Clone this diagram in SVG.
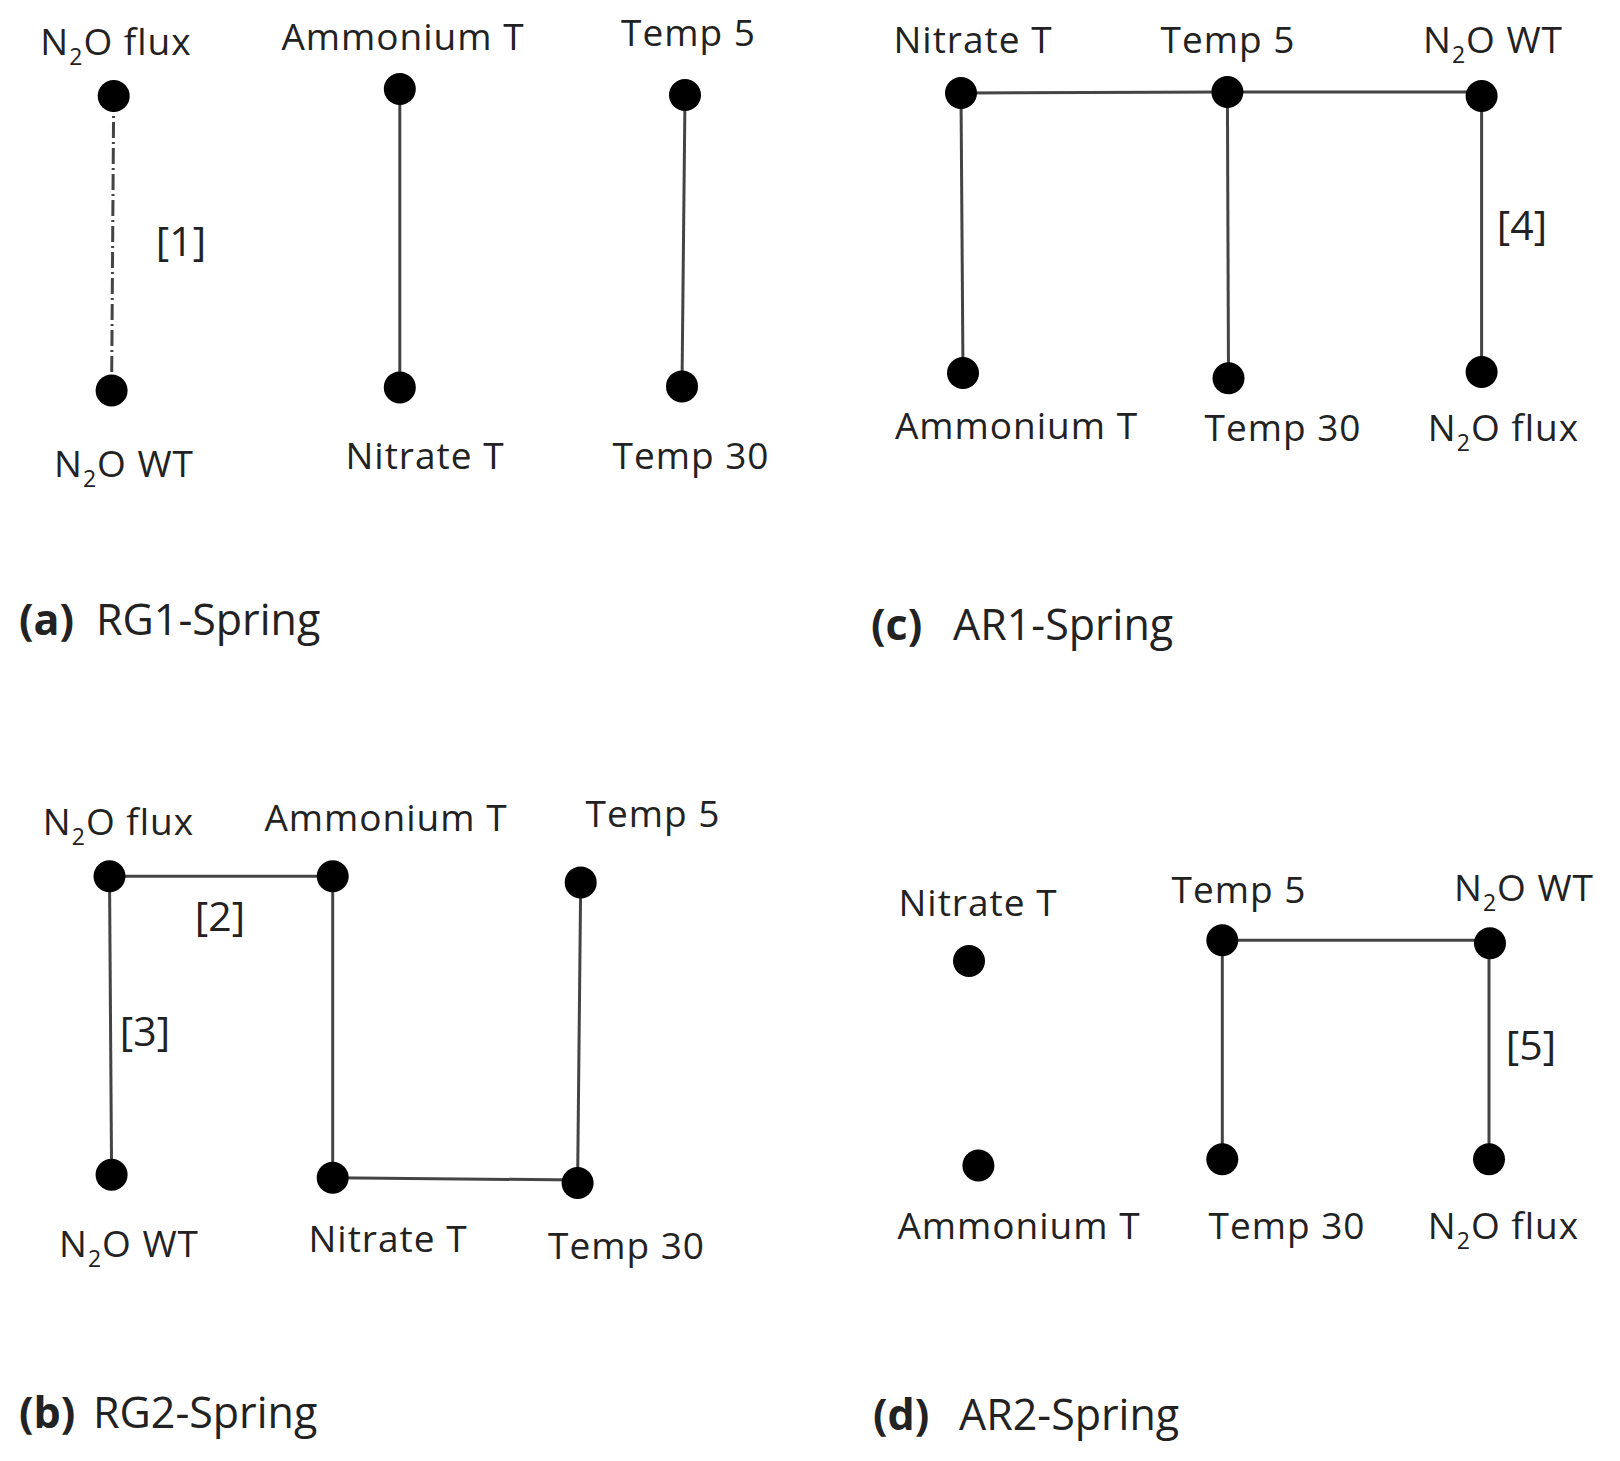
<svg xmlns="http://www.w3.org/2000/svg" width="1620" height="1461" viewBox="0 0 1620 1461">
<style>
.lbl{font-family:"Open Sans","Liberation Sans",sans-serif;font-size:37px;fill:#222;text-anchor:middle;letter-spacing:1px}
.sub{font-size:23px}
.br{font-family:"Open Sans","Liberation Sans",sans-serif;font-size:41px;fill:#222;text-anchor:middle}
.ttl{font-family:"Open Sans","Liberation Sans",sans-serif;font-size:43px;fill:#222}
.b{font-weight:bold}
.dot{fill:#000}
.edge{stroke:#444;stroke-width:3;fill:none}
.dash{stroke:#444;stroke-width:3;fill:none;stroke-dasharray:16 4 2 4}
</style>
<rect width="1620" height="1461" fill="#fff"/>
<g id="connectors">
<line class="dash" x1="113.7" y1="96" x2="111.6" y2="390.5"/>
<line class="edge" x1="399.8" y1="89" x2="399.8" y2="387.4"/>
<line class="edge" x1="685" y1="95" x2="682" y2="386.4"/>
<line class="edge" x1="961" y1="93" x2="1227.4" y2="92"/>
<line class="edge" x1="1227.4" y1="92" x2="1481.6" y2="92"/>
<line class="edge" x1="961" y1="93" x2="963" y2="373"/>
<line class="edge" x1="1227.4" y1="92" x2="1228.5" y2="378.2"/>
<line class="edge" x1="1481.6" y1="96" x2="1481.6" y2="372"/>
<line class="edge" x1="109.5" y1="876.2" x2="332.7" y2="876.2"/>
<line class="edge" x1="109.5" y1="876.2" x2="111.6" y2="1174.7"/>
<line class="edge" x1="332.7" y1="876.2" x2="332.7" y2="1177.8"/>
<line class="edge" x1="332.7" y1="1177.8" x2="577.6" y2="1180"/>
<line class="edge" x1="580.7" y1="882.4" x2="577.6" y2="1183"/>
<line class="edge" x1="1222.3" y1="940.2" x2="1490" y2="940.2"/>
<line class="edge" x1="1222.3" y1="940.2" x2="1222.3" y2="1159.3"/>
<line class="edge" x1="1489" y1="943.3" x2="1489" y2="1159.3"/>
<text class="br" x="181" y="256">[1]</text>
<text class="br" x="1522" y="240">[4]</text>
<text class="br" x="220" y="931">[2]</text>
<text class="br" x="145" y="1046">[3]</text>
<text class="br" x="1531" y="1060">[5]</text>
</g>
<g id="panel-a">
<g id="a-n2oflux"><circle class="dot" cx="113.7" cy="96" r="16"/><text class="lbl" x="116" y="55">N<tspan class="sub" dy="10">2</tspan><tspan dy="-10">O flux</tspan></text></g>
<g id="a-n2owt"><circle class="dot" cx="111.6" cy="390.5" r="16"/><text class="lbl" x="124" y="477">N<tspan class="sub" dy="10">2</tspan><tspan dy="-10">O WT</tspan></text></g>
<g id="a-ammonium"><circle class="dot" cx="399.8" cy="89" r="16"/><text class="lbl" x="403" y="50">Ammonium T</text></g>
<g id="a-nitrate"><circle class="dot" cx="399.8" cy="387.4" r="16"/><text class="lbl" x="425" y="469">Nitrate T</text></g>
<g id="a-temp5"><circle class="dot" cx="685" cy="95" r="16"/><text class="lbl" x="688.5" y="46">Temp 5</text></g>
<g id="a-temp30"><circle class="dot" cx="682" cy="386.4" r="16"/><text class="lbl" x="691" y="469">Temp 30</text></g>
<text class="ttl" x="19" y="635"><tspan class="b">(a)</tspan><tspan x="96">RG1-Spring</tspan></text>
</g>
<g id="panel-c">
<g id="c-nitrate"><circle class="dot" cx="961" cy="93" r="16"/><text class="lbl" x="973" y="53">Nitrate T</text></g>
<g id="c-temp5"><circle class="dot" cx="1227.4" cy="92" r="16"/><text class="lbl" x="1228" y="53">Temp 5</text></g>
<g id="c-n2owt"><circle class="dot" cx="1481.6" cy="96" r="16"/><text class="lbl" x="1493" y="53">N<tspan class="sub" dy="10">2</tspan><tspan dy="-10">O WT</tspan></text></g>
<g id="c-ammonium"><circle class="dot" cx="963" cy="373" r="16"/><text class="lbl" x="1016.5" y="439">Ammonium T</text></g>
<g id="c-temp30"><circle class="dot" cx="1228.5" cy="378.2" r="16"/><text class="lbl" x="1283" y="441">Temp 30</text></g>
<g id="c-n2oflux"><circle class="dot" cx="1481.6" cy="372" r="16"/><text class="lbl" x="1503.5" y="441">N<tspan class="sub" dy="10">2</tspan><tspan dy="-10">O flux</tspan></text></g>
<text class="ttl" x="871" y="640"><tspan class="b">(c)</tspan><tspan x="953">AR1-Spring</tspan></text>
</g>
<g id="panel-b">
<g id="b-n2oflux"><circle class="dot" cx="109.5" cy="876.2" r="16"/><text class="lbl" x="118.5" y="835">N<tspan class="sub" dy="10">2</tspan><tspan dy="-10">O flux</tspan></text></g>
<g id="b-ammonium"><circle class="dot" cx="332.7" cy="876.2" r="16"/><text class="lbl" x="386" y="831">Ammonium T</text></g>
<g id="b-temp5"><circle class="dot" cx="580.7" cy="882.4" r="16"/><text class="lbl" x="653" y="827">Temp 5</text></g>
<g id="b-n2owt"><circle class="dot" cx="111.6" cy="1174.7" r="16"/><text class="lbl" x="129" y="1257">N<tspan class="sub" dy="10">2</tspan><tspan dy="-10">O WT</tspan></text></g>
<g id="b-nitrate"><circle class="dot" cx="332.7" cy="1177.8" r="16"/><text class="lbl" x="388" y="1252">Nitrate T</text></g>
<g id="b-temp30"><circle class="dot" cx="577.6" cy="1183" r="16"/><text class="lbl" x="626.5" y="1259">Temp 30</text></g>
<text class="ttl" x="19" y="1428"><tspan class="b">(b)</tspan><tspan x="93">RG2-Spring</tspan></text>
</g>
<g id="panel-d">
<g id="d-nitrate"><circle class="dot" cx="969" cy="961" r="16"/><text class="lbl" x="978" y="916">Nitrate T</text></g>
<g id="d-temp5"><circle class="dot" cx="1222.3" cy="940.2" r="16"/><text class="lbl" x="1239" y="903">Temp 5</text></g>
<g id="d-n2owt"><circle class="dot" cx="1490" cy="943.3" r="16"/><text class="lbl" x="1524" y="901">N<tspan class="sub" dy="10">2</tspan><tspan dy="-10">O WT</tspan></text></g>
<g id="d-ammonium"><circle class="dot" cx="978.4" cy="1165.5" r="16"/><text class="lbl" x="1019" y="1239">Ammonium T</text></g>
<g id="d-temp30"><circle class="dot" cx="1222.3" cy="1159.3" r="16"/><text class="lbl" x="1287" y="1239">Temp 30</text></g>
<g id="d-n2oflux"><circle class="dot" cx="1489" cy="1159.3" r="16"/><text class="lbl" x="1503.5" y="1239">N<tspan class="sub" dy="10">2</tspan><tspan dy="-10">O flux</tspan></text></g>
<text class="ttl" x="873" y="1430"><tspan class="b">(d)</tspan><tspan x="959">AR2-Spring</tspan></text>
</g>
</svg>
